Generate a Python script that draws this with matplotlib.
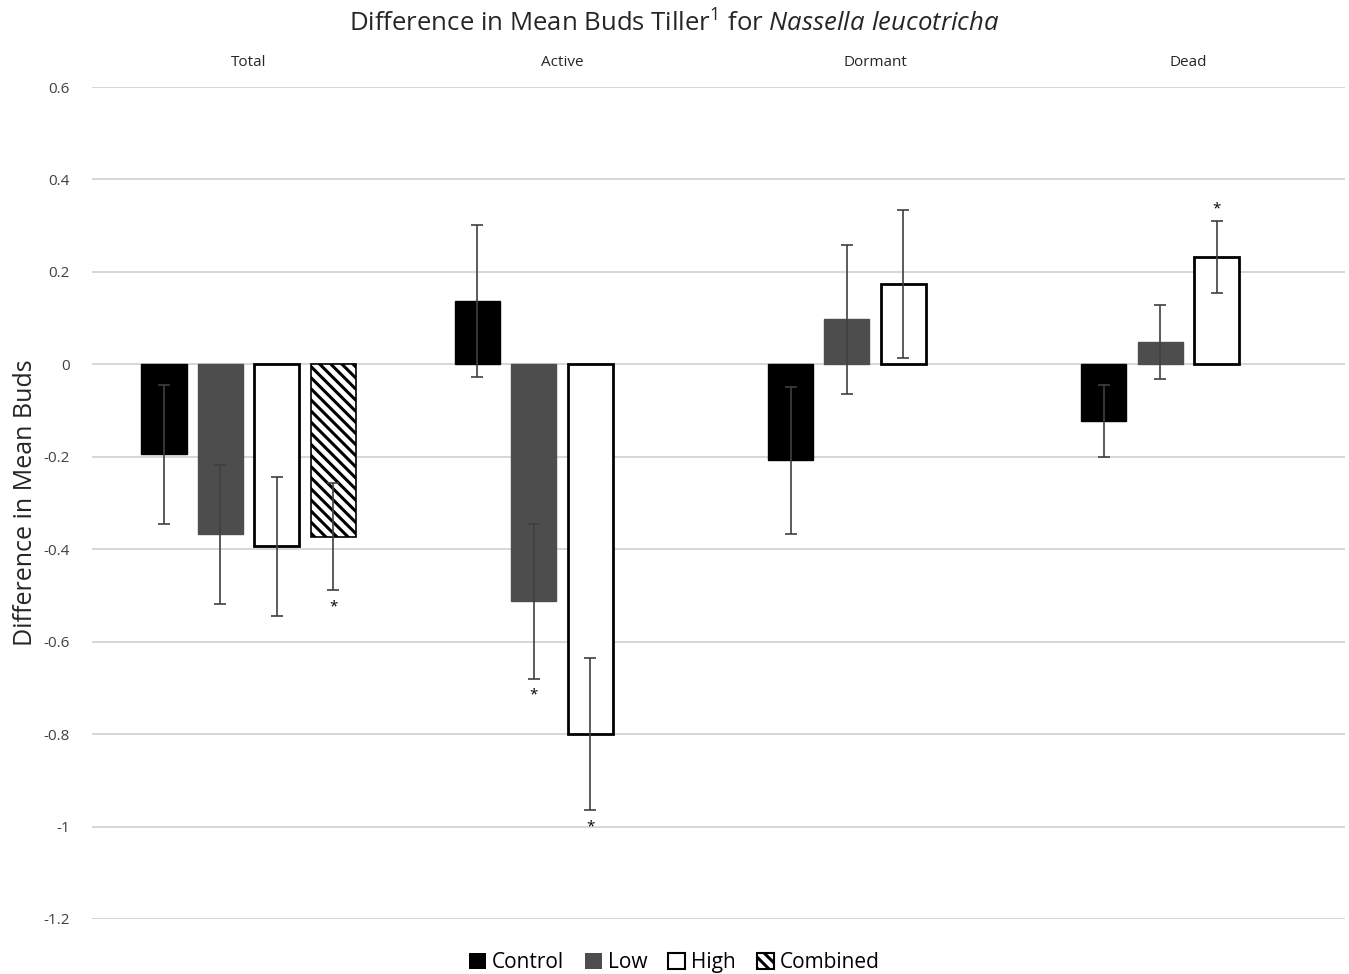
import numpy as np
import matplotlib.pyplot as plt
from matplotlib.patches import Patch
from matplotlib.transforms import blended_transform_factory

plt.rcParams['font.family'] = ['Open Sans', 'DejaVu Sans']
plt.rcParams['mathtext.fontset'] = 'custom'
plt.rcParams['mathtext.rm'] = 'Open Sans'
plt.rcParams['mathtext.it'] = 'Open Sans:italic'
plt.rcParams['hatch.linewidth'] = 2.2

groups = ['Total', 'Active', 'Dormant', 'Dead']
treatments = ['Control', 'Low', 'High', 'Combined']

# mean difference per treatment, one value per group
control = [-0.195, 0.137, -0.208, -0.123]
low = [-0.368, -0.513, 0.097, 0.048]
high = [-0.394, -0.800, 0.173, 0.232]
combined = [-0.373, np.nan, np.nan, np.nan]

control_err = [0.150, 0.165, 0.160, 0.078]
low_err = [0.150, 0.167, 0.161, 0.080]
high_err = [0.150, 0.165, 0.160, 0.078]
combined_err = [0.116, np.nan, np.nan, np.nan]

# significance stars: (group index, treatment index)
stars = [(0, 3), (1, 1), (1, 2), (3, 2)]

values = [control, low, high, combined]
errors = [control_err, low_err, high_err, combined_err]
styles = [
    dict(color='black', edgecolor='black'),
    dict(color='#4d4d4d', edgecolor='#4d4d4d'),
    dict(color='white', edgecolor='black', linewidth=2),
    dict(color='white', edgecolor='black', linewidth=1.2, hatch='\\\\\\'),
]

fig = plt.figure(figsize=(13.49, 9.74), dpi=100)
ax = fig.add_axes([92 / 1349, 1 - 919 / 974, (1345 - 92) / 1349, (919 - 87) / 974])

x = np.arange(len(groups))
slot = 0.18
width = 0.144
for i, (vals, errs, st) in enumerate(zip(values, errors, styles)):
    pos = x + (i - 1.5) * slot
    ax.bar(pos, vals, width, zorder=3, **st)
    ax.errorbar(pos, vals, yerr=errs, fmt='none', ecolor='#404040',
                elinewidth=1.2, capsize=4, capthick=1.2, zorder=4)

for g, t in stars:
    v = values[t][g]
    e = errors[t][g]
    pos = x[g] + (t - 1.5) * slot
    if v < 0:
        ax.text(pos, v - e - 0.02, '*', ha='center', va='top', fontsize=11)
    else:
        ax.text(pos, v + e + 0.01, '*', ha='center', va='bottom', fontsize=11)

ax.set_xlim(-0.5, 3.5)
ax.set_ylim(-1.2, 0.6)
ax.set_yticks(np.arange(-1.2, 0.61, 0.2))
ax.set_yticklabels(['-1.2', '-1', '-0.8', '-0.6', '-0.4', '-0.2', '0', '0.2', '0.4', '0.6'])
ax.set_xticks([])
ax.tick_params(axis='y', length=0, labelsize=11, colors='#404040', pad=16)
ax.grid(axis='y', color='#d0d0d0', linewidth=1.2, zorder=0)
for s in ax.spines.values():
    s.set_visible(False)

trans = blended_transform_factory(ax.transData, ax.transAxes)
for i, g in enumerate(groups):
    ax.text(i, 1.029, g, transform=trans, ha='center', va='center',
            fontsize=11, color='#262626')

ax.set_ylabel('Difference in Mean Buds', fontsize=18, color='#262626', labelpad=4)

fig.text(0.5, 0.975, r'Difference in Mean Buds Tiller$^1$ for $\it{Nassella\ leucotricha}$',
         ha='center', va='center', fontsize=18.5, color='#262626')

handles = [Patch(facecolor=st['color'], edgecolor=st['edgecolor'],
                 linewidth=1.5 if i >= 2 else 0, hatch=st.get('hatch'))
           for i, st in enumerate(styles)]
fig.legend(handles, treatments, loc='center', bbox_to_anchor=(0.5, 0.012),
           ncol=4, frameon=False, fontsize=15, handlelength=0.8, handleheight=0.8,
           handletextpad=0.3, columnspacing=1.0)

fig.savefig('out.png', dpi=100)
